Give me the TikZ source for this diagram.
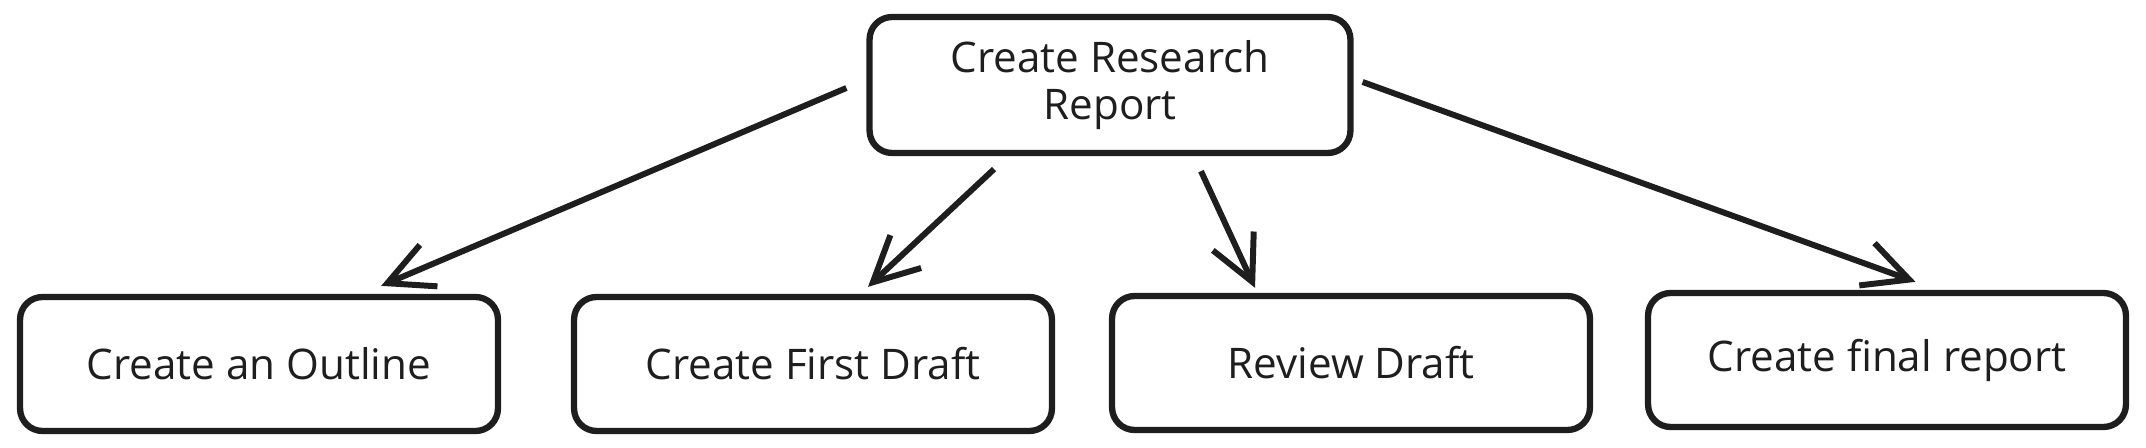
\documentclass[tikz,border=0pt]{standalone}
\usepackage{fontspec}
\setmainfont{Open Sans}
\usetikzlibrary{arrows.meta}
\definecolor{ink}{HTML}{1E1E1E}
\begin{document}
\begin{tikzpicture}[x=0.02cm, y=-0.02cm,
                box/.style={draw=ink, line width=3.6pt, rounded corners=0.45cm, minimum width=9.56cm, minimum height=2.68cm, align=center, text=ink, font=\fontsize{24}{27}\selectfont},
                arr/.style={draw=ink, line width=3.4pt, -{Straight Barb[length=0.9cm, width=0.9cm]}}]
                \useasboundingbox (0,0) rectangle (2146,448);

                \node [box, minimum width=9.62cm, minimum height=2.72cm] (CR) at (1110,85) {Create Research\\Report};
                \node [box] (OL) at (259,364) {Create an Outline};
                \node [box] (FD) at (813,364) {Create First Draft};
                \node [box] (RD) at (1351,363) {Review Draft};
                \node [box] (FR) at (1887,360) {Create final report};

                \draw[arr] ([xshift=-0.4cm, yshift=-0.06cm]CR.west) -- ([xshift=-2.4cm, yshift=0.16cm]OL.north east);
                \draw[arr] ([xshift=-2.32cm, yshift=-0.26cm]CR.south) -- ([xshift=1.1cm, yshift=0.14cm]FD.north);
                \draw[arr] ([xshift=1.82cm, yshift=-0.3cm]CR.south) -- ([xshift=-1.92cm, yshift=0.1cm]RD.north);
                \draw[arr] ([xshift=0.18cm, yshift=0.06cm]CR.east) -- ([xshift=0.57cm, yshift=0.16cm]FR.north);
            \end{tikzpicture}
\end{document}
